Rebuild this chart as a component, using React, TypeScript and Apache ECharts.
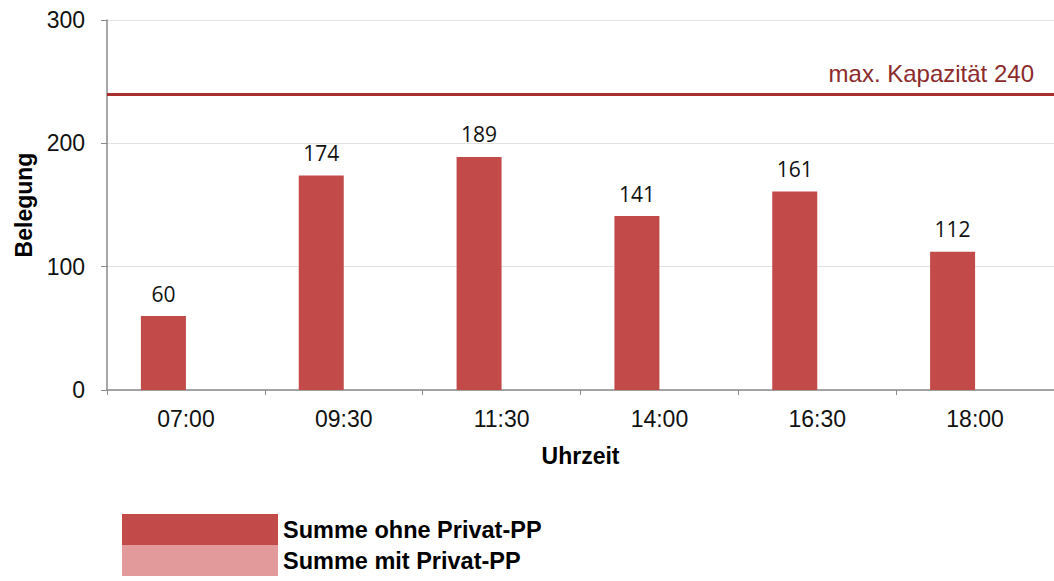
import React, { useEffect, useRef } from "react";
import * as echarts from "echarts";

const categories = ["07:00", "09:30", "11:30", "14:00", "16:30", "18:00"];
const ohnePrivat = [60, 174, 189, 141, 161, 112];
const mitPrivat = [0, 0, 0, 0, 0, 0];
const capacity = 240;
const capacityLabel = "max. Kapazität 240";
const yTicks = { min: 0, max: 300, interval: 100 };

export default function App() {
  const ref = useRef<HTMLDivElement>(null);
  useEffect(() => {
    const chart = echarts.init(ref.current!, null, { renderer: "svg" });
    chart.setOption({
      animation: false,
      backgroundColor: "#ffffff",
      textStyle: { fontFamily: "Liberation Sans, Arial, sans-serif" },
      grid: { left: 107, right: -9, top: 20, bottom: 191, containLabel: false },
      legend: {
        orient: "vertical",
        left: 122,
        top: 514,
        padding: 0,
        itemWidth: 156,
        itemHeight: 31,
        itemGap: 0,
        icon: "rect",
        textStyle: { fontSize: 23.5, fontWeight: "bold", color: "#000" },
        data: ["Summe ohne Privat-PP", "Summe mit Privat-PP"],
      },
      xAxis: {
        type: "category",
        data: categories,
        name: "Uhrzeit",
        nameLocation: "middle",
        nameGap: 54,
        nameTextStyle: { fontSize: 23, fontWeight: "bold", color: "#000" },
        axisLine: { lineStyle: { color: "#8a8a8a", width: 1.5 } },
        axisTick: { show: true, length: 5, lineStyle: { color: "#8a8a8a" } },
        axisLabel: { fontSize: 23, color: "#111", margin: 17 },
      },
      yAxis: {
        type: "value",
        min: yTicks.min,
        max: yTicks.max,
        interval: yTicks.interval,
        name: "Belegung",
        nameLocation: "middle",
        nameGap: 72,
        nameTextStyle: { fontSize: 23, fontWeight: "bold", color: "#000" },
        axisLine: { show: true, lineStyle: { color: "#8a8a8a", width: 1.5 } },
        axisTick: { show: true, length: 6, lineStyle: { color: "#8a8a8a" } },
        axisLabel: { fontSize: 23, color: "#111", margin: 22 },
        splitLine: { show: true, lineStyle: { color: "#e2e2e2", width: 1 } },
      },
      series: [
        {
          name: "Summe ohne Privat-PP",
          type: "bar",
          data: ohnePrivat,
          barWidth: 45,
          barGap: "0%",
          itemStyle: { color: "#c24b4a" },
          label: {
            show: true,
            position: "top",
            distance: 12,
            fontSize: 21,
            color: "#111",
            fontFamily: "Open Sans, sans-serif",
          },
          markLine: {
            symbol: "none",
            silent: true,
            lineStyle: { color: "#a8302f", width: 3, type: "solid" },
            label: {
              show: true,
              position: "insideEndTop",
              formatter: capacityLabel,
              fontSize: 24,
              color: "#8b2b2b",
              distance: [20, 9],
            },
            data: [{ yAxis: capacity }],
          },
        },
        {
          name: "Summe mit Privat-PP",
          type: "bar",
          data: mitPrivat,
          barWidth: 45,
          itemStyle: { color: "#e39a9a" },
        },
      ],
    });
    return () => chart.dispose();
  }, []);
  return (
    <div
      ref={ref}
      style={{ position: "fixed", left: 0, top: 0, width: 1054, height: 581 }}
    />
  );
}
